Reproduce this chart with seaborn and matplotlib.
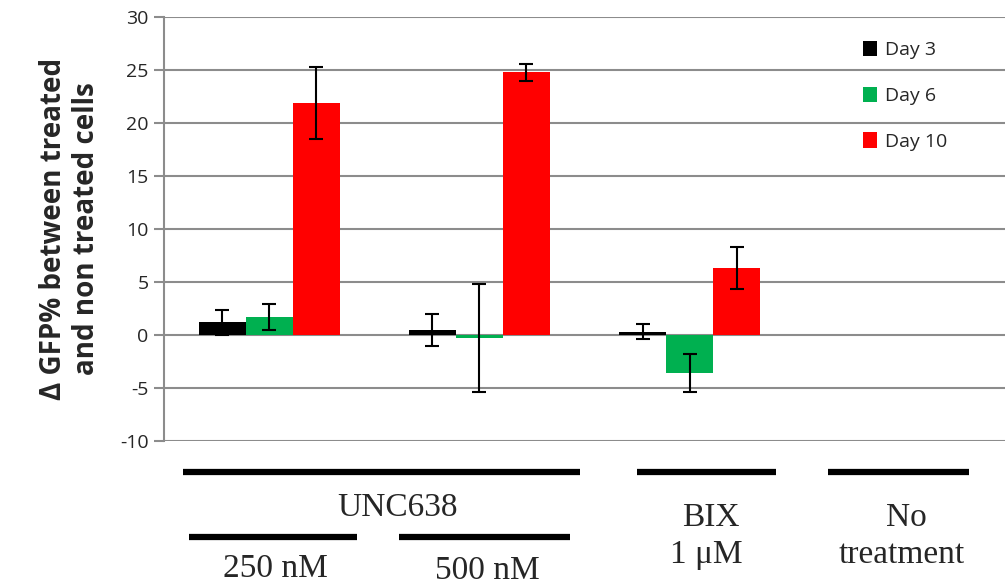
import numpy as np
import pandas as pd
import matplotlib
matplotlib.use("Agg")
import matplotlib.pyplot as plt
import matplotlib.transforms as mtransforms
from matplotlib.patches import Patch
import seaborn as sns

# ---- data ----
categories = ["250 nM", "500 nM", "BIX 1 uM", "No treatment"]
days = ["Day 3", "Day 6", "Day 10"]
day3 = [1.2, 0.5, 0.3, np.nan]
day6 = [1.7, -0.3, -3.6, np.nan]
day10 = [21.9, 24.8, 6.3, np.nan]
day3_err = [1.2, 1.5, 0.7, np.nan]
day6_err = [1.2, 5.1, 1.8, np.nan]
day10_err = [3.4, 0.8, 2.0, np.nan]
yticks = [-10, -5, 0, 5, 10, 15, 20, 25, 30]
colors = ["#000000", "#00B050", "#FF0000"]

rows = []
for d, vals, errs in zip(days, [day3, day6, day10], [day3_err, day6_err, day10_err]):
    for c, v, e in zip(categories, vals, errs):
        rows.append({"cat": c, "day": d, "val": v, "err": e})
df = pd.DataFrame(rows)

sns.set_theme(style="white")
plt.rcParams["font.family"] = ["Open Sans", "DejaVu Sans"]

fig = plt.figure(figsize=(10.05, 5.86), dpi=100)
ax = fig.add_axes([164 / 1005, 1 - 441 / 586, 1 - 164 / 1005, 424 / 586])

sns.barplot(data=df, x="cat", y="val", hue="day", order=categories,
            hue_order=days, palette=colors, width=0.67, errorbar=None,
            saturation=1, linewidth=0, ax=ax, legend=False)

# error bars at bar centres
for cont, d in zip(ax.containers, days):
    sub = df[df["day"] == d].set_index("cat").loc[categories]
    for bar, (_, r) in zip(cont, sub.iterrows()):
        if np.isnan(r["val"]):
            continue
        xc = bar.get_x() + bar.get_width() / 2
        ax.errorbar(xc, r["val"], yerr=r["err"], fmt="none", ecolor="black",
                    elinewidth=1.5, capsize=5, capthick=1.5, zorder=5)

ax.set_ylim(-10, 30)
ax.set_xlim(-0.5, 3.5)
ax.set_yticks(yticks)
ax.set_yticklabels([str(t) for t in yticks], fontsize=14)
ax.yaxis.grid(True, color="#8c8c8c", linewidth=1.5)
ax.set_axisbelow(True)
ax.set_xticks([])
ax.set_xlabel("")
for s in ["top", "right", "bottom"]:
    ax.spines[s].set_visible(False)
ax.spines["left"].set_color("#8c8c8c")
ax.spines["left"].set_linewidth(1.5)
ax.tick_params(axis="y", left=True, length=7, width=1.5, color="#8c8c8c", pad=4)
ax.set_ylabel("Δ GFP% between treated\nand non treated cells", fontsize=20,
              fontweight="bold", labelpad=14, linespacing=1.15)

handles = [Patch(facecolor=c, edgecolor="none") for c in colors]
ax.legend(handles, days, loc="upper left", bbox_to_anchor=(0.81, 0.985),
          frameon=False, fontsize=14, labelspacing=1.4, handlelength=0.75,
          handleheight=0.85, handletextpad=0.4)

# group brackets below axis
trans = mtransforms.blended_transform_factory(ax.transData, ax.transAxes)
lw = 4.5
serif = dict(family="Liberation Serif", fontsize=24, ha="center", va="center",
             transform=trans, clip_on=False)
for x0, x1, y in [(-0.41, 1.48, -0.073), (1.75, 2.41, -0.073), (2.66, 3.33, -0.073),
                  (-0.38, 0.42, -0.226), (0.62, 1.43, -0.226)]:
    ax.plot([x0, x1], [y, y], color="black", lw=lw, transform=trans, clip_on=False,
            solid_capstyle="butt")
ax.text(0.61, -0.158, "UNC638", **serif)
ax.text(0.03, -0.302, "250 nM", **serif)
ax.text(1.04, -0.305, "500 nM", **serif)
ax.text(2.10, -0.182, "BIX", **serif)
ax.text(2.08, -0.269, "1 μM", **serif)
ax.text(3.03, -0.182, "No", **serif)
ax.text(3.01, -0.269, "treatment", **serif)

fig.savefig("out.png", dpi=100)
